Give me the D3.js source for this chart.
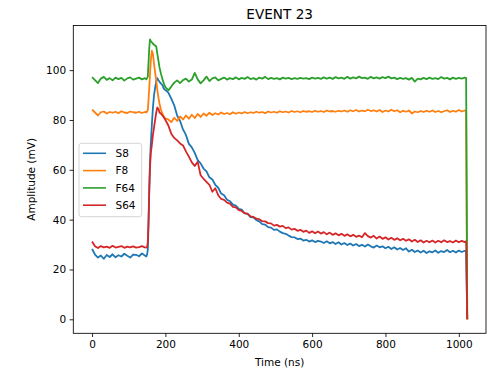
<!DOCTYPE html>
<html>
<head>
<meta charset="utf-8">
<script src="https://cdn.jsdelivr.net/npm/d3@7"></script>
<style>
  body { margin: 0; background: #fff; }
  svg { display: block; font-family: "DejaVu Sans", sans-serif; }
</style>
</head>
<body>
<svg id="chart" width="491" height="375"></svg>
<script>
// sample times (ns), denser around the pulse rise
const timeNs = [0, 8, 16, 24, 32, 40, 48, 56, 64, 72, 80, 88, 96, 104, 112, 120, 128, 136, 144,
  148, 150, 152, 154, 156, 158, 160, 163, 166, 169, 172, 175, 178, 181, 184, 188, 192, 196, 200,
  208, 216, 224, 232, 240, 248, 256, 264, 272, 280, 288, 296, 304, 312, 320, 328, 336, 344, 352, 360,
  368, 376, 384, 392, 400, 408, 416, 424, 432, 440, 448, 456, 464, 472, 480, 488, 496, 504, 512, 520,
  528, 536, 544, 552, 560, 568, 576, 584, 592, 600, 608, 616, 624, 632, 640, 648, 656, 664, 672, 680,
  688, 696, 704, 712, 720, 728, 736, 744, 752, 760, 768, 776, 784, 792, 800, 808, 816, 824, 832, 840,
  848, 856, 864, 872, 880, 888, 896, 904, 912, 920, 928, 936, 944, 952, 960, 968, 976, 984, 992, 1000,
  1008, 1016, 1020, 1023];

const s8 = [28.3, 26.0, 24.8, 25.6, 24.3, 25.8, 25.0, 26.1, 24.9, 25.7, 25.2, 26.3, 25.5, 24.8, 26.0, 25.9, 25.3, 26.4, 25.6,
  25.2, 26.0, 28, 38, 52, 63, 70, 78, 85, 90, 93, 95.5, 96.8, 96.0, 95.3, 94.6, 94.0, 92.5, 92.0,
  91.0, 88.6, 85.9, 81.8, 79.6, 76.2, 74.0, 70.4, 69.0, 66.8, 63.9, 62.6, 60.5, 59.4, 57.0, 56.1, 54.0, 52.8, 50.5, 49.8,
  48.0, 47.4, 46.0, 45.6, 44.3, 44.0, 42.5, 42.3, 41.0, 40.9, 39.8, 39.3, 38.2, 38.0, 37.0, 36.8, 35.9, 36.1, 35.2, 34.6,
  34.3, 33.6, 33.0, 32.9, 32.2, 32.4, 31.6, 31.9, 31.2, 31.7, 31.0, 31.5, 31.2, 30.6, 31.3, 30.5, 31.0, 30.2, 30.9, 30.0,
  30.6, 29.8, 30.4, 29.6, 30.2, 29.4, 29.9, 29.2, 30.0, 29.3, 28.8, 29.6, 28.9, 29.3, 28.5, 29.1, 28.2, 28.9, 28.0, 28.6,
  27.8, 28.5, 27.2, 27.9, 27.0, 27.6, 26.8, 27.5, 26.6, 27.3, 26.9, 27.6, 26.7, 27.4, 27.0, 27.8, 26.9, 27.5, 26.8, 27.6,
  27.0, 27.5, 27.2, 0];

const f8 = [84.2, 83.0, 81.8, 83.1, 83.4, 82.6, 83.2, 82.9, 83.3, 82.7, 83.5, 83.0, 82.8, 83.4, 83.1, 82.9, 83.3, 82.8, 83.2,
  83.1, 83.4, 84, 88, 93, 98.5, 103.5, 107.8, 106.5, 102.5, 99, 96, 92, 89, 86.5, 84, 82.5, 81.2, 80.6,
  80.2, 79.1, 80.9, 79.6, 81.4, 80.2, 81.8, 80.5, 82.1, 80.8, 82.4, 81.2, 82.6, 81.7, 82.9, 82.0, 82.7, 82.2, 83.0, 82.4,
  82.8, 82.3, 83.1, 82.5, 83.0, 82.6, 83.2, 82.7, 83.1, 82.8, 83.3, 82.9, 83.2, 82.7, 83.4, 83.0, 83.3, 82.9, 83.5, 83.1,
  83.4, 83.0, 83.6, 83.2, 83.5, 83.1, 83.6, 83.3, 83.5, 83.2, 83.7, 83.3, 83.6, 83.2, 83.8, 83.4, 83.6, 83.3, 83.7, 83.4,
  83.8, 83.3, 83.9, 83.5, 84.0, 83.4, 83.8, 83.5, 84.1, 83.6, 83.9, 83.4, 84.0, 83.2, 83.8, 83.4, 84.1, 83.5, 83.9, 83.1,
  83.7, 83.3, 83.8, 82.6, 83.4, 83.1, 83.6, 83.2, 83.7, 83.3, 83.8, 83.2, 83.6, 83.1, 83.5, 83.9, 83.2, 83.7, 83.3, 84.0,
  83.4, 83.8, 83.5, 0];

const f64 = [97.2, 96.0, 94.8, 96.6, 97.3, 96.1, 96.8, 95.9, 97.0, 96.4, 96.9, 95.8, 96.7, 97.1, 96.2, 96.6, 97.0, 96.3, 96.8,
  96.3, 96.8, 97.5, 103, 109, 112.3, 111.7, 111.2, 110.6, 110.2, 109.9, 109.5, 106.5, 103.8, 101.0, 98.5, 96.3, 94.5, 93.2,
  91.9, 93.4, 95.0, 95.9, 94.8, 96.0, 96.6, 95.4, 96.2, 98.9, 96.3, 94.7, 95.9, 97.4, 95.6, 96.7, 97.1, 95.9, 96.5, 97.0,
  96.2, 96.8, 96.4, 97.1, 96.3, 96.9, 96.5, 97.2, 96.4, 96.8, 96.2, 97.0, 96.6, 97.3, 96.4, 96.9, 96.5, 96.8, 96.3, 97.0,
  96.6, 96.9, 96.4, 96.8, 96.5, 96.9, 96.6, 96.8, 96.4, 97.0, 96.6, 96.9, 96.5, 97.1, 96.6, 97.0, 96.5, 97.2, 96.7, 97.0,
  96.5, 97.3, 96.6, 97.1, 96.7, 97.4, 96.8, 97.0, 96.5, 97.3, 96.7, 97.1, 96.6, 97.2, 96.8, 97.4, 96.7, 97.0, 96.4, 96.9,
  96.5, 96.8, 96.2, 96.9, 95.4, 96.6, 96.3, 96.9, 96.4, 97.0, 96.5, 96.8, 96.4, 97.2, 96.6, 96.9, 96.3, 97.0, 96.5, 96.9,
  96.6, 97.0, 96.8, 0];

const s64 = [31.2, 29.3, 28.6, 29.4, 28.9, 29.2, 28.7, 29.5, 28.8, 29.1, 29.4, 28.7, 29.2, 28.9, 29.3, 28.8, 29.0, 29.4, 28.9,
  28.8, 29.0, 31, 40, 52, 61, 66.5, 70, 74, 77, 80, 83, 85, 84.5, 83, 82.5, 81.8, 81, 80,
  77.8, 74.5, 72.8, 71.8, 70.6, 69.8, 67.4, 65.3, 63.0, 61.5, 63.2, 57.8, 56.4, 55.2, 54.0, 51.2, 52.6, 49.8, 48.3, 47.9,
  46.8, 46.4, 45.1, 44.9, 43.8, 43.5, 42.6, 42.4, 41.3, 41.1, 40.4, 40.2, 39.4, 39.3, 38.6, 38.5, 37.6, 37.9, 37.2, 37.5,
  36.6, 36.9, 36.0, 36.3, 35.5, 35.9, 35.1, 35.6, 34.7, 35.3, 34.5, 35.2, 34.4, 35.0, 34.1, 34.8, 33.9, 34.5, 33.7, 34.3,
  33.5, 34.1, 33.3, 33.9, 33.1, 33.6, 32.9, 34.6, 33.4, 32.8, 33.5, 32.4, 33.2, 32.3, 32.9, 32.0, 32.7, 31.9, 32.5, 31.7,
  32.3, 31.5, 32.1, 31.2, 31.9, 31.0, 31.7, 30.8, 31.5, 30.9, 31.6, 30.8, 31.5, 30.9, 31.7, 31.0, 31.4, 30.8, 31.6, 30.9,
  31.5, 31.0, 31.3, 0];

const seriesNames = ['S8', 'F8', 'F64', 'S64'];
const seriesColors = ['#1f77b4', '#ff7f0e', '#2ca02c', '#d62728'];
const xTicks = [0, 200, 400, 600, 800, 1000];
const yTicks = [0, 20, 40, 60, 80, 100];

const series = [s8, f8, f64, s64].map((vals, i) => ({
  name: seriesNames[i],
  color: seriesColors[i],
  values: vals.map((v, j) => ({ t: timeNs[j], v: v }))
}));

const margin = { top: 25.5, right: 5, bottom: 41.7, left: 73.3 };
const totalW = 491, totalH = 375;
const width = totalW - margin.left - margin.right;
const height = totalH - margin.top - margin.bottom;

const svg = d3.select('#chart');
const g = svg.append('g').attr('transform', 'translate(' + margin.left + ',' + margin.top + ')');

// matplotlib style 5% padding on the data extent
const xExt = d3.extent(timeNs);
const xPad = (xExt[1] - xExt[0]) * 0.05;
const allVals = [].concat(s8, f8, f64, s64);
const yExt = d3.extent(allVals);
const yPad = (yExt[1] - yExt[0]) * 0.05;

const x = d3.scaleLinear().domain([xExt[0] - xPad, xExt[1] + xPad]).range([0, width]);
const y = d3.scaleLinear().domain([yExt[0] - yPad, yExt[1] + yPad]).range([height, 0]);

const line = d3.line()
  .x((d) => x(d.t))
  .y((d) => y(d.v));

g.append('g').attr('class', 'paths')
  .selectAll('path')
  .data(series)
  .enter()
  .append('path')
  .attr('d', (d) => line(d.values))
  .attr('fill', 'none')
  .attr('stroke', (d) => d.color)
  .attr('stroke-width', 1.8)
  .attr('stroke-linejoin', 'round');

// axes
const xAxis = d3.axisBottom(x).tickValues(xTicks).tickFormat(d3.format('d')).tickSize(3.7).tickPadding(3.5);
const yAxis = d3.axisLeft(y).tickValues(yTicks).tickFormat(d3.format('d')).tickSize(3.7).tickPadding(3.5);

const xg = g.append('g').attr('transform', 'translate(0,' + height + ')').call(xAxis);
const yg = g.append('g').call(yAxis);
[xg, yg].forEach((a) => {
  a.select('.domain').remove();
  a.selectAll('line').attr('stroke', '#000').attr('stroke-width', 0.85);
  a.selectAll('text').attr('fill', '#000').style('font-size', '10.5px').style('font-family', '"DejaVu Sans", sans-serif');
});

// frame
g.append('rect')
  .attr('x', 0).attr('y', 0)
  .attr('width', width).attr('height', height)
  .attr('fill', 'none')
  .attr('stroke', '#000')
  .attr('stroke-width', 0.85);

// labels
svg.append('text')
  .attr('x', margin.left + width / 2)
  .attr('y', 19)
  .attr('text-anchor', 'middle')
  .style('font-size', '13.6px')
  .attr('fill', '#000')
  .text('EVENT 23');

svg.append('text')
  .attr('x', margin.left + width / 2)
  .attr('y', 365.5)
  .attr('text-anchor', 'middle')
  .style('font-size', '10.5px')
  .attr('fill', '#000')
  .text('Time (ns)');

svg.append('text')
  .attr('transform', 'translate(34.5,' + (margin.top + height / 2) + ') rotate(-90)')
  .attr('text-anchor', 'middle')
  .style('font-size', '10.5px')
  .attr('fill', '#000')
  .text('Amplitude (mV)');

// legend
const lg = svg.append('g').attr('transform', 'translate(79,143.3)');
lg.append('rect')
  .attr('width', 62.7).attr('height', 73.4)
  .attr('rx', 2.5).attr('ry', 2.5)
  .attr('fill', '#fff').attr('fill-opacity', 0.8)
  .attr('stroke', '#ccc').attr('stroke-width', 0.85);

const items = lg.selectAll('g.item')
  .data(series)
  .enter()
  .append('g')
  .attr('class', 'item')
  .attr('transform', (d, i) => 'translate(0,' + (10 + i * 17.3) + ')');
items.append('line')
  .attr('x1', 4).attr('x2', 27)
  .attr('stroke', (d) => d.color)
  .attr('stroke-width', 1.6);
items.append('text')
  .attr('x', 36.5).attr('dy', '0.36em')
  .style('font-size', '10.5px')
  .attr('fill', '#000')
  .text((d) => d.name);
</script>
</body>
</html>
